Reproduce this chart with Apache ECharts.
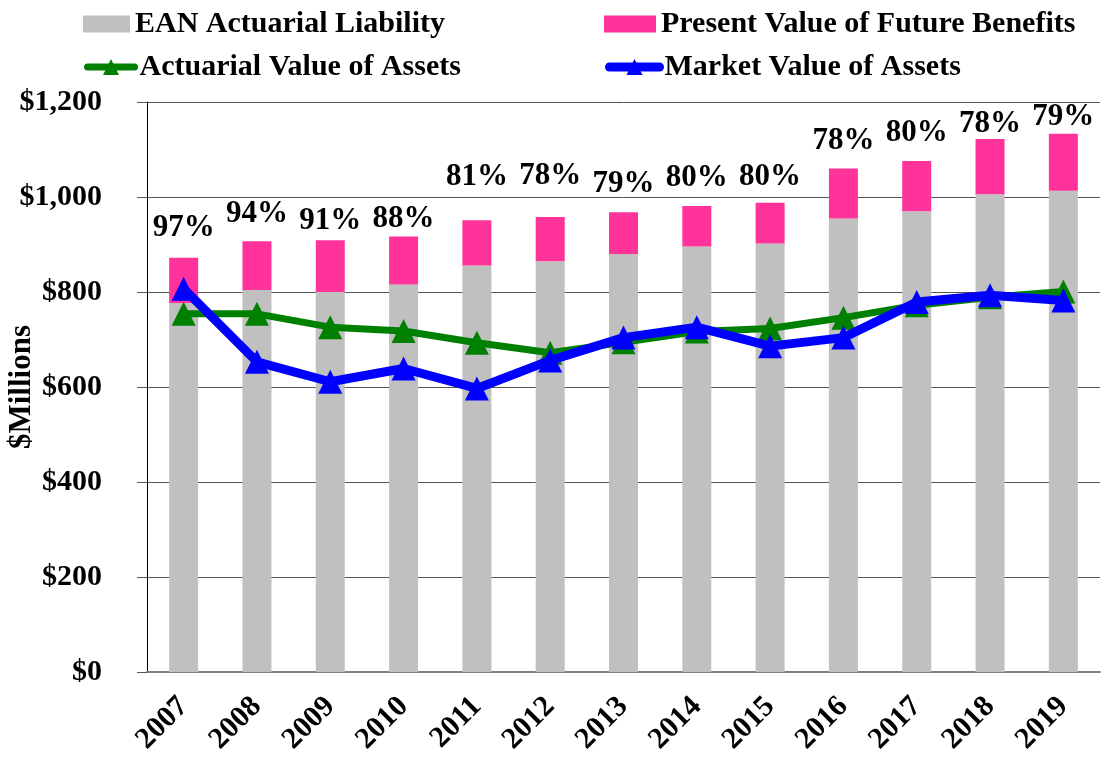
<!DOCTYPE html>
<html>
<head>
<meta charset="utf-8">
<script src="https://cdn.jsdelivr.net/npm/echarts@6/dist/echarts.min.js"></script>
<style>html,body{margin:0;padding:0;background:#fff}#c{width:1112px;height:757px}</style>
</head>
<body>
<div id="c"></div>
<script>
var years = ['2007','2008','2009','2010','2011','2012','2013','2014','2015','2016','2017','2018','2019'];
var eanLiability = [777, 804, 800, 816, 856, 865, 880, 896, 902, 955, 970, 1006, 1013];
var pvfb = [872, 907, 909, 917, 951, 958, 968, 981, 988, 1060, 1076, 1122, 1133];
var actuarialAssets = [754, 754, 726, 718, 693, 672, 694, 717, 723, 746, 772, 789, 801];
var marketAssets = [807, 653, 611, 639, 597, 656, 704, 726, 686, 704, 779, 793, 782];
var fundedRatio = ['97%','94%','91%','88%','81%','78%','79%','80%','80%','78%','80%','78%','79%'];
var yTicks = [0, 200, 400, 600, 800, 1000, 1200];

// label lift above each bar (styling only)
var labelDist = [14, 12, 4, 2, 28, 25, 13, 13, 10, 12, 12, 0, 1];

var FONT = '"Liberation Serif","Times New Roman",serif';
var chart = echarts.init(document.getElementById('c'));

var pinkData = pvfb.map(function (v, i) {
  return {
    value: v - eanLiability[i],
    label: { distance: labelDist[i] }
  };
});

var legendText = { fontFamily: FONT, fontWeight: 'bold', fontSize: 30, color: '#000' };

chart.setOption({
  animation: false,
  backgroundColor: '#fff',
  legend: [
    { left: 83, top: 9, data: ['EAN Actuarial Liability'], icon: 'rect', itemWidth: 47, itemHeight: 17, itemGap: 6, textStyle: legendText, padding: 0 },
    { left: 604, top: 9, data: ['Present Value of Future Benefits'], icon: 'rect', itemWidth: 52, itemHeight: 17, textStyle: legendText, padding: 0 },
    { left: 84, top: 52, data: ['Actuarial Value of Assets'], itemWidth: 47, itemHeight: 20, textStyle: legendText, padding: 0,
      lineStyle: { width: 7, cap: 'round' } },
    { left: 605, top: 52, data: ['Market Value of Assets'], itemWidth: 50, itemHeight: 20, textStyle: legendText, padding: 0,
      lineStyle: { width: 9, cap: 'round' } }
  ],
  grid: { left: 147, right: 12, top: 102, bottom: 85, containLabel: false, outerBoundsMode: 'none' },
  xAxis: {
    type: 'category',
    data: years,
    axisLine: { show: true, lineStyle: { color: '#808080', width: 2 } },
    axisTick: { show: false },
    axisLabel: {
      rotate: 45, interval: 0, margin: 30,
      fontFamily: FONT, fontWeight: 'bold', fontSize: 30, color: '#000'
    }
  },
  yAxis: {
    type: 'value',
    min: 0, max: 1200, interval: 200,
    name: '$Millions',
    nameLocation: 'middle',
    nameGap: 110,
    nameMoveOverlap: false,
    nameRotate: 90,
    nameTextStyle: { fontFamily: FONT, fontWeight: 'bold', fontSize: 31, color: '#000' },
    axisLine: { show: true, lineStyle: { color: '#000', width: 1 } },
    axisTick: { show: true, length: 10, inside: false, lineStyle: { color: '#555' } },
    axisLabel: {
      margin: 45,
      fontFamily: FONT, fontWeight: 'bold', fontSize: 30, color: '#000',
      formatter: function (v) { return yTicks.indexOf(v) >= 0 ? '$' + v.toLocaleString('en-US') : ''; }
    },
    splitLine: { show: true, lineStyle: { color: '#555', width: 1 } }
  },
  series: [
    {
      name: 'EAN Actuarial Liability',
      type: 'bar',
      stack: 'liab',
      barWidth: 29,
      data: eanLiability,
      itemStyle: { color: '#C0C0C0' }
    },
    {
      name: 'Present Value of Future Benefits',
      type: 'bar',
      stack: 'liab',
      barWidth: 29,
      data: pinkData,
      itemStyle: { color: '#FF3399' },
      label: {
        show: true,
        position: 'top',
        fontFamily: FONT, fontWeight: 'bold', fontSize: 31, color: '#000',
        formatter: function (p) { return fundedRatio[p.dataIndex]; }
      }
    },
    {
      name: 'Actuarial Value of Assets',
      type: 'line',
      data: actuarialAssets,
      symbol: 'triangle',
      symbolSize: 24,
      lineStyle: { color: '#008000', width: 7 },
      itemStyle: { color: '#008000' },
      z: 3
    },
    {
      name: 'Market Value of Assets',
      type: 'line',
      data: marketAssets,
      symbol: 'triangle',
      symbolSize: 24,
      lineStyle: { color: '#0000FF', width: 9 },
      itemStyle: { color: '#0000FF' },
      z: 4
    }
  ]
});
</script>
</body>
</html>
